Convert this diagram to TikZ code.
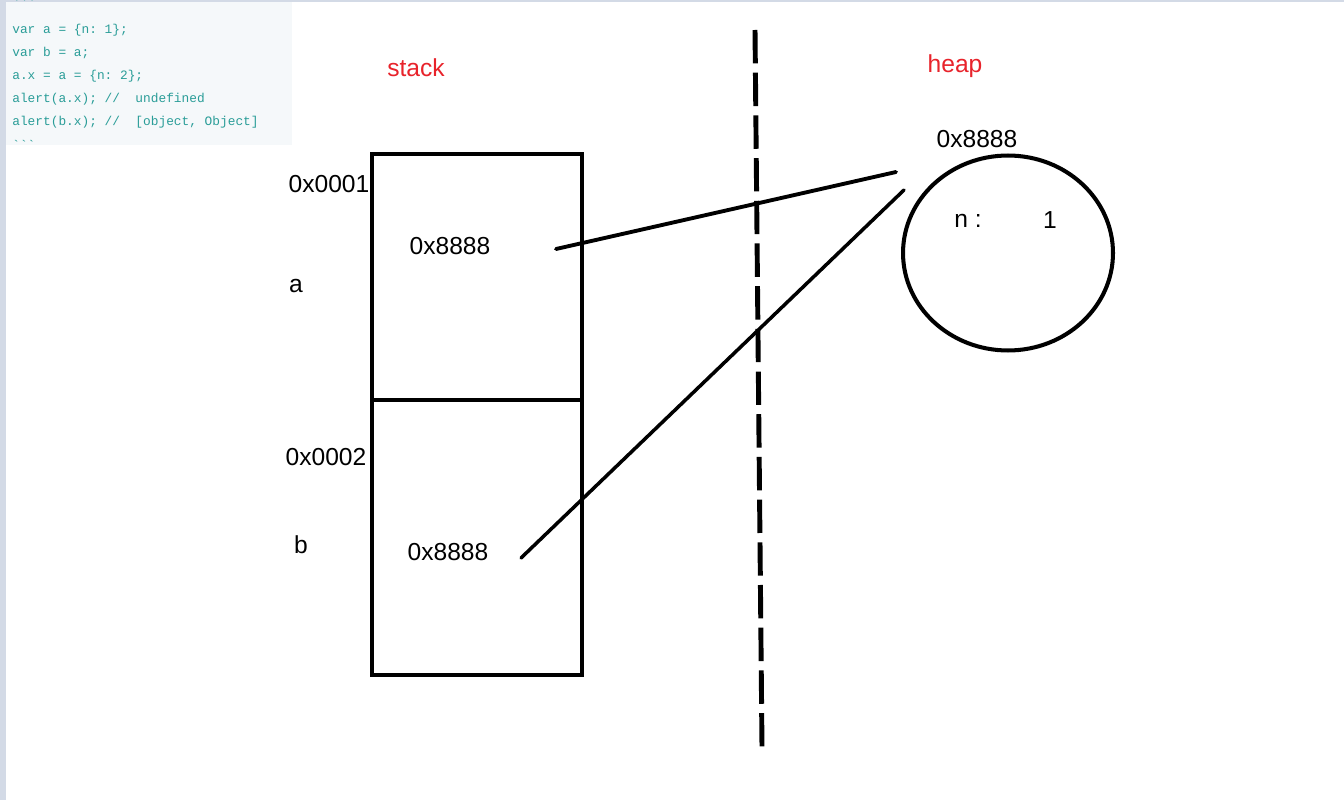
\documentclass[tikz,border=0pt]{standalone}
\usepackage{fontspec}
\setmainfont{Liberation Sans}
\setmonofont{Liberation Mono}
\usetikzlibrary{shapes.geometric}

\definecolor{codeteal}{HTML}{2A9D98}
\definecolor{codebg}{HTML}{F5F8FA}
\definecolor{edgegray}{HTML}{D3DAE6}
\definecolor{labelred}{HTML}{E8232B}

\begin{document}
\begin{tikzpicture}[x=0.02cm, y=-0.02cm,
    label/.style={font=\fontsize{14}{16}\selectfont, inner sep=0pt},
    title/.style={label, text=labelred},
    codeline/.style={font=\ttfamily\fontsize{7.3}{8}\selectfont, text=codeteal, anchor=west, inner sep=0pt},
    cell/.style={draw, line width=2.3pt, minimum width=4.2cm, anchor=north west, inner sep=0pt, outer sep=0pt},
    pointer/.style={line width=2.2pt, line cap=round},
    divider/.style={line width=2.8pt, dash pattern=on 19pt off 5.3pt}]
    \useasboundingbox (0,0) rectangle (1344,800);
    \fill[white] (0,0) rectangle (1344,800);
    \fill[edgegray] (0,0) rectangle (6,800);
    \fill[edgegray] (0,0) rectangle (1344,2);
    \fill[codebg] (6,2) rectangle (292,145);

    % the snippet
    \node[codeline] (code0) at (12,4) {\textasciigrave\textasciigrave\textasciigrave};
    \node[codeline] (code1) at (12,30) {var a = \{n: 1\};};
    \node[codeline] (code2) at (12,53) {var b = a;};
    \node[codeline] (code3) at (12,76) {a.x = a = \{n: 2\};};
    \node[codeline] (code4) at (12,99) {alert(a.x); //\ \ undefined};
    \node[codeline] (code5) at (12,122) {alert(b.x); //\ \ [object, Object]};
    \node[codeline] (code6) at (12,145) {\textasciigrave\textasciigrave\textasciigrave};

    % stack side
    \node[title] (stack) at (416,68) {stack};
    \node[cell, minimum height=4.92cm] (cell_a) at (372,154) {};
    \node[cell, minimum height=5.5cm] (cell_b) at (372,400) {};
    \node[label] (addr_a) at (329,184) {0x0001};
    \node[label] (var_a) at (296,286) {a};
    \node[label] (addr_b) at (326,457) {0x0002};
    \node[label] (var_b) at (301,545) {b};
    \node[label] (val_a) at (450,246) {0x8888};
    \node[label] (val_b) at (448,552) {0x8888};

    % heap side
    \node[title] (heap) at (955,66) {heap};
    \node[draw, ellipse, line width=2.3pt, minimum width=4.2cm, minimum height=3.9cm] (obj) at (1008,253) {};
    \node[label] (obj_addr) at (977,139) {0x8888};
    \node[label] (key_n) at (968,221) {n :};
    \node[label] (val_n) at (1050,220) {1};

    % divider and pointers
    \coordinate (div_top) at (755,30);
    \coordinate (div_bot) at (762,748);
    \draw[divider] (div_top) -- (div_bot);
    \coordinate (a_from) at (556,249);
    \coordinate (a_to) at (896,172);
    \coordinate (b_from) at (521,558);
    \coordinate (b_to) at (904,190);
    \draw[pointer] (a_from) -- (a_to);
    \draw[pointer, line width=2pt] (b_from) -- (b_to);
\end{tikzpicture}
\end{document}
